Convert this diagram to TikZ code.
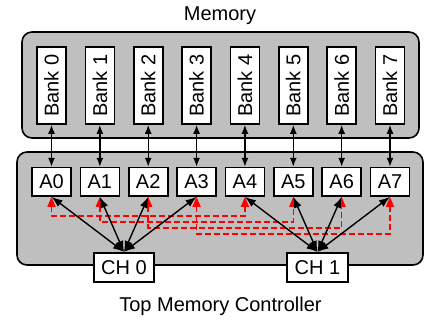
\documentclass[tikz,border=0pt]{standalone}
\usepackage{fontspec}
\setmainfont{Liberation Sans}
\usepackage{graphicx}
\usetikzlibrary{arrows.meta}
\begin{document}
\begin{tikzpicture}[x=1pt,y=-1pt,
  font=\fontsize{20}{24}\selectfont,
  panel/.style={draw=black, fill=gray!50, line width=1.6pt, rounded corners=10pt, inner sep=0pt},
  bankbox/.style={draw=black, fill=white, line width=1.6pt, minimum width=29pt, minimum height=77pt, inner sep=0pt},
  abox/.style={draw=black, fill=white, line width=1.6pt, minimum width=39pt, minimum height=28.5pt, inner sep=0pt},
  chbox/.style={draw=black, fill=white, line width=1.6pt, minimum width=60.5pt, minimum height=29pt, inner sep=0pt},
  link/.style={line width=1.4pt, {Latex[length=9pt,width=7pt]}-{Latex[length=9pt,width=7pt]}},
  chlink/.style={line width=1.4pt, {Latex[length=11pt,width=8pt]}-{Latex[length=11pt,width=8pt]}},
  redlink/.style={draw=red, line width=1.6pt, dash pattern=on 6pt off 3pt, {Triangle[length=10pt,width=8pt,fill=red]}-{Triangle[length=10pt,width=8pt,fill=red]}}]
\useasboundingbox (0,0) rectangle (424,322);
\node[panel, minimum width=397pt, minimum height=106pt] (mem) at (220.5,85) {};
\node[panel, minimum width=406pt, minimum height=113pt] (ctrl) at (220,208.5) {};
\node[anchor=base] (memlabel) at (220,20) {Memory};
\node[anchor=base] (ctrllabel) at (220.5,311.5) {Top Memory Controller};
\foreach \i in {0,...,7}{
  \pgfmathsetmacro\xx{51.5+48.36*\i}
  \node[bankbox] (B\i) at (\xx,85.5) {\rotatebox{90}{Bank \i}};
  \node[abox] (A\i) at (\xx,181.8) {A\i};
}
\foreach \i in {0,...,7}{
  \draw[link] (B\i.south) -- (A\i.north);
}
\node[chbox] (CH0) at (124,267.2) {CH 0};
\node[chbox] (CH1) at (317.5,267.2) {CH 1};
\foreach \i/\d in {0/19,1/25,2/31,3/37}{
  \pgfmathtruncatemacro\j{\i+4}
  \draw[redlink] (A\i.south) -- ++(0,\d) -| (A\j.south);
}
\foreach \i in {0,...,3}{
  \draw[chlink] (CH0.north) -- (A\i.south);
}
\foreach \i in {4,...,7}{
  \draw[chlink] (CH1.north) -- (A\i.south);
}
\end{tikzpicture}
\end{document}
